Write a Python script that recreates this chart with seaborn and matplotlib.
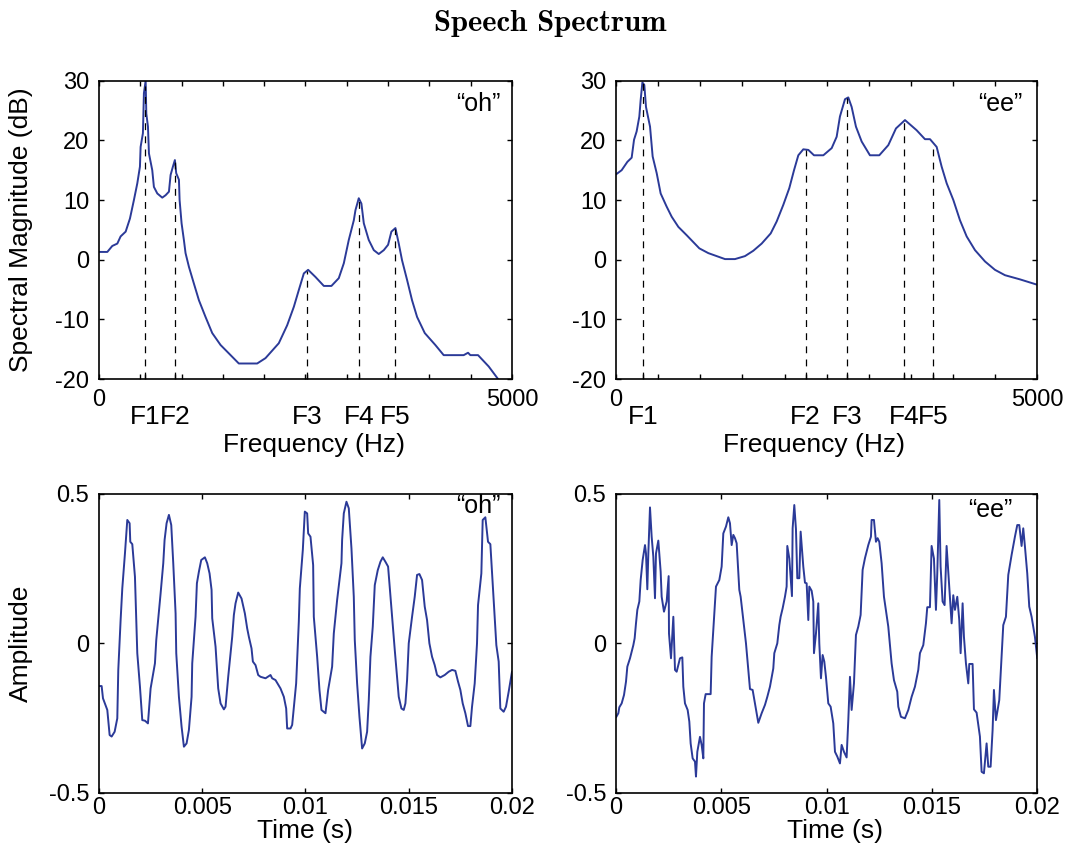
import numpy as np
import matplotlib
matplotlib.use("Agg")
import matplotlib.pyplot as plt
import seaborn as sns

# spectrum of "oh" (Hz, dB)
oh_freq = [0, 101, 161, 222, 262, 323, 375, 423, 464, 496, 504, 532, 544, 565, 573, 593, 605, 645, 665, 706,
           766, 806, 847, 867, 895, 919, 935, 968, 976, 1000, 1028, 1048, 1089, 1149, 1210, 1290, 1371, 1472, 1572, 1693,
           1915, 2016, 2177, 2278, 2359, 2419, 2480, 2532, 2621, 2722, 2814, 2903, 2964, 3024, 3085, 3105, 3145, 3177, 3206, 3266,
           3327, 3387, 3448, 3500, 3540, 3589, 3629, 3669, 3730, 3790, 3851, 3944, 4072, 4173, 4314, 4415, 4468, 4496, 4589, 4718,
           4831, 5000]
oh_db = [1.3, 1.3, 2.3, 2.7, 3.9, 4.7, 6.9, 10.0, 12.8, 15.6, 18.9, 21.2, 27.9, 30.0, 24.5, 22.3, 17.8, 15.0, 12.2, 11.1,
         10.4, 10.8, 11.4, 14.2, 15.6, 16.7, 14.5, 13.4, 10.0, 6.1, 3.3, 1.1, -1.2, -4.0, -6.8, -9.6, -12.3, -14.3, -15.7, -17.4,
         -17.4, -16.5, -14.0, -11.0, -7.9, -5.1, -2.3, -1.7, -2.9, -4.4, -4.4, -3.1, -0.6, 3.3, 6.6, 8.3, 10.3, 9.4, 6.1, 3.3,
         1.6, 0.95, 1.6, 2.5, 4.7, 5.3, 2.7, -0.1, -3.4, -6.8, -9.6, -12.3, -14.3, -16.0, -16.0, -16.0, -15.6, -16.0, -16.0, -17.9,
         -20.0, -23.0]
oh_formants = [556, 919, 2520, 3150, 3580]

# spectrum of "ee"
ee_freq = [0, 67, 135, 186, 214, 245, 277, 293, 313, 336, 356, 404, 435, 483, 530, 601, 661, 740, 839, 989,
           1096, 1294, 1412, 1531, 1630, 1729, 1836, 1907, 1986, 2057, 2113, 2164, 2223, 2283, 2350, 2461, 2560, 2619, 2658, 2718,
           2757, 2797, 2848, 2916, 3014, 3125, 3232, 3323, 3430, 3568, 3667, 3727, 3806, 3865, 3925, 4004, 4083, 4162, 4261, 4380,
           4498, 4617, 4795, 5000]
ee_db = [14.3, 15.0, 16.4, 17.1, 20.1, 21.5, 24.0, 26.8, 29.7, 29.3, 25.6, 22.3, 17.3, 14.5, 11.1, 8.9, 7.2, 5.5, 4.1, 1.9,
         1.1, 0.1, 0.1, 0.6, 1.5, 2.7, 4.4, 6.4, 9.2, 12.0, 15.0, 17.5, 18.5, 18.4, 17.5, 17.5, 18.7, 20.6, 24.0, 26.9,
         27.2, 25.6, 22.3, 19.8, 17.5, 17.5, 19.2, 22.0, 23.4, 21.7, 20.2, 20.2, 18.9, 15.6, 12.8, 10.0, 6.6, 3.9, 1.6, -0.3,
         -1.7, -2.6, -3.3, -4.2]
ee_formants = [317, 2250, 2745, 3420, 3765]

formant_names = ['F1', 'F2', 'F3', 'F4', 'F5']

# waveform of "oh" (time in ms, amplitude)
oh_t = [0.032, 0.129, 0.194, 0.403, 0.516, 0.613, 0.758, 0.887, 0.935, 1.048,
        1.129, 1.258, 1.371, 1.484, 1.516, 1.613, 1.742, 1.855, 1.984, 2.097,
        2.226, 2.371, 2.500, 2.710, 2.774, 2.984, 3.113, 3.177, 3.274, 3.387,
        3.500, 3.597, 3.710, 3.742, 3.871, 4.000, 4.113, 4.242, 4.355, 4.484,
        4.516, 4.677, 4.742, 4.839, 4.952, 5.129, 5.242, 5.355, 5.452, 5.484,
        5.645, 5.774, 5.887, 6.048, 6.129, 6.258, 6.387, 6.452, 6.532, 6.613,
        6.742, 6.903, 7.065, 7.177, 7.258, 7.387, 7.452, 7.581, 7.710, 7.823,
        8.065, 8.306, 8.387, 8.548, 8.790, 8.952, 9.065, 9.113, 9.274, 9.355,
        9.548, 9.677, 9.726, 9.871, 9.968, 10.081, 10.129, 10.242, 10.371, 10.403,
        10.565, 10.677, 10.774, 10.968, 11.097, 11.290, 11.371, 11.532, 11.742, 11.774,
        11.855, 11.984, 12.097, 12.226, 12.339, 12.387, 12.500, 12.613, 12.742, 12.871,
        12.984, 13.065, 13.145, 13.258, 13.355, 13.500, 13.629, 13.742, 13.871, 14.000,
        14.065, 14.194, 14.323, 14.435, 14.516, 14.645, 14.758, 14.839, 14.919, 15.000,
        15.161, 15.290, 15.403, 15.516, 15.645, 15.774, 15.887, 16.000, 16.129, 16.258,
        16.371, 16.532, 16.742, 16.935, 17.097, 17.258, 17.387, 17.500, 17.613, 17.742,
        17.871, 17.984, 18.065, 18.194, 18.306, 18.355, 18.516, 18.581, 18.710, 18.839,
        18.952, 19.113, 19.242, 19.355, 19.435, 19.597, 19.710, 19.839, 20.000]
oh_amp = [-0.143, -0.143, -0.184, -0.223, -0.307, -0.312, -0.296, -0.251, -0.089, 0.078,
          0.184, 0.301, 0.413, 0.402, 0.340, 0.332, 0.223, -0.033, -0.145, -0.257,
          -0.259, -0.268, -0.151, -0.067, 0.011, 0.167, 0.268, 0.346, 0.402, 0.430,
          0.396, 0.268, 0.100, -0.033, -0.179, -0.279, -0.346, -0.335, -0.290, -0.179,
          -0.067, 0.089, 0.201, 0.240, 0.279, 0.288, 0.268, 0.234, 0.179, 0.084,
          -0.011, -0.151, -0.201, -0.221, -0.212, -0.112, -0.022, 0.022, 0.095, 0.134,
          0.170, 0.150, 0.100, 0.050, 0.022, -0.017, -0.061, -0.073, -0.106, -0.112,
          -0.117, -0.106, -0.117, -0.123, -0.151, -0.179, -0.218, -0.285, -0.285, -0.273,
          -0.134, 0.073, 0.184, 0.313, 0.441, 0.435, 0.368, 0.357, 0.262, 0.089,
          -0.045, -0.156, -0.223, -0.234, -0.156, -0.078, 0.033, 0.145, 0.268, 0.346,
          0.435, 0.474, 0.452, 0.318, 0.156, 0.011, -0.134, -0.246, -0.352, -0.335,
          -0.296, -0.190, -0.045, 0.056, 0.195, 0.245, 0.273, 0.288, 0.273, 0.257,
          0.201, 0.089, -0.022, -0.112, -0.179, -0.218, -0.223, -0.201, -0.123, 0.000,
          0.089, 0.156, 0.229, 0.232, 0.212, 0.123, 0.078, 0.000, -0.045, -0.073,
          -0.106, -0.114, -0.106, -0.095, -0.089, -0.092, -0.128, -0.156, -0.201, -0.234,
          -0.277, -0.277, -0.212, -0.134, 0.000, 0.128, 0.234, 0.413, 0.422, 0.340,
          0.332, 0.145, -0.006, -0.061, -0.218, -0.229, -0.212, -0.162, -0.095]

# waveform of "ee"
ee_t = [0.000, 0.111, 0.158, 0.269, 0.380, 0.475, 0.538, 0.665, 0.823, 0.886,
        0.949, 1.013, 1.108, 1.171, 1.266, 1.377, 1.424, 1.487, 1.535, 1.614,
        1.693, 1.772, 1.851, 1.899, 2.009, 2.120, 2.168, 2.278, 2.405, 2.500,
        2.516, 2.611, 2.722, 2.801, 2.880, 3.038, 3.149, 3.196, 3.275, 3.402,
        3.481, 3.544, 3.639, 3.750, 3.797, 3.861, 3.987, 4.066, 4.146, 4.177,
        4.256, 4.494, 4.541, 4.620, 4.747, 4.905, 5.016, 5.095, 5.222, 5.332,
        5.411, 5.491, 5.570, 5.649, 5.728, 5.854, 5.918, 6.044, 6.171, 6.282,
        6.361, 6.487, 6.598, 6.756, 6.915, 7.073, 7.184, 7.310, 7.468, 7.516,
        7.658, 7.753, 7.816, 7.911, 8.022, 8.101, 8.133, 8.228, 8.354, 8.386,
        8.465, 8.544, 8.608, 8.703, 8.766, 8.892, 8.972, 9.051, 9.130, 9.177,
        9.288, 9.367, 9.399, 9.494, 9.604, 9.652, 9.731, 9.810, 9.889, 9.968,
        10.079, 10.190, 10.316, 10.396, 10.506, 10.633, 10.712, 10.823, 10.949, 11.029,
        11.108, 11.187, 11.298, 11.392, 11.503, 11.614, 11.709, 11.820, 11.978, 12.104,
        12.136, 12.247, 12.342, 12.421, 12.500, 12.611, 12.722, 12.927, 13.085, 13.196,
        13.354, 13.402, 13.528, 13.718, 13.877, 14.035, 14.193, 14.351, 14.430, 14.589,
        14.715, 14.778, 14.905, 14.984, 15.095, 15.190, 15.253, 15.348, 15.411, 15.506,
        15.601, 15.696, 15.823, 15.934, 16.013, 16.092, 16.203, 16.297, 16.361, 16.456,
        16.519, 16.614, 16.725, 16.772, 16.930, 16.994, 17.120, 17.278, 17.358, 17.468,
        17.595, 17.674, 17.785, 17.880, 17.943, 18.038, 18.196, 18.307, 18.386, 18.513,
        18.624, 18.782, 18.940, 19.051, 19.146, 19.256, 19.335, 19.415, 19.525, 19.620,
        19.731, 19.889, 20.000]
ee_amp = [-0.248, -0.234, -0.214, -0.201, -0.173, -0.128, -0.078, -0.050, -0.006, 0.017,
          0.067, 0.112, 0.140, 0.212, 0.279, 0.329, 0.301, 0.181, 0.301, 0.455,
          0.357, 0.290, 0.151, 0.301, 0.344, 0.240, 0.156, 0.106, 0.140, 0.225,
          0.033, -0.050, 0.089, -0.089, -0.095, -0.050, -0.047, -0.145, -0.201, -0.223,
          -0.262, -0.335, -0.385, -0.396, -0.446, -0.363, -0.313, -0.340, -0.385, -0.201,
          -0.170, -0.170, -0.045, 0.045, 0.190, 0.212, 0.257, 0.368, 0.391, 0.422,
          0.402, 0.329, 0.363, 0.352, 0.335, 0.179, 0.156, 0.078, 0.000, -0.089,
          -0.153, -0.156, -0.201, -0.266, -0.234, -0.206, -0.179, -0.145, -0.084, -0.033,
          0.000, 0.061, 0.089, 0.117, 0.156, 0.190, 0.326, 0.284, 0.158, 0.385,
          0.463, 0.382, 0.218, 0.218, 0.374, 0.257, 0.203, 0.201, 0.078, 0.190,
          0.176, 0.140, -0.033, 0.033, 0.134, 0.000, -0.117, -0.039, -0.061, -0.112,
          -0.201, -0.212, -0.268, -0.363, -0.379, -0.402, -0.340, -0.363, -0.382, -0.257,
          -0.112, -0.223, -0.134, 0.028, 0.056, 0.095, 0.246, 0.285, 0.329, 0.357,
          0.413, 0.413, 0.340, 0.352, 0.340, 0.268, 0.156, 0.056, -0.067, -0.123,
          -0.162, -0.212, -0.246, -0.251, -0.223, -0.179, -0.145, -0.089, -0.033, -0.006,
          0.067, 0.121, 0.121, 0.326, 0.284, 0.112, 0.234, 0.480, 0.257, 0.140,
          0.128, 0.326, 0.190, 0.067, 0.161, 0.112, 0.156, 0.078, -0.033, 0.134,
          0.022, -0.067, -0.134, -0.069, -0.069, -0.221, -0.232, -0.312, -0.430, -0.435,
          -0.335, -0.413, -0.413, -0.290, -0.156, -0.257, -0.190, -0.045, 0.061, 0.089,
          0.229, 0.296, 0.357, 0.396, 0.396, 0.326, 0.385, 0.324, 0.234, 0.123,
          0.089, 0.022, -0.050]

# style
sns.set_style("ticks")
plt.rcParams['font.family'] = ['Liberation Sans', 'DejaVu Sans']
plt.rcParams['axes.unicode_minus'] = False
plt.rcParams['axes.edgecolor'] = 'black'
plt.rcParams['axes.linewidth'] = 1.2
plt.rcParams['text.color'] = 'black'
plt.rcParams['axes.labelcolor'] = 'black'
plt.rcParams['xtick.color'] = 'black'
plt.rcParams['ytick.color'] = 'black'
plt.rcParams['xtick.direction'] = 'in'
plt.rcParams['ytick.direction'] = 'in'
plt.rcParams['xtick.top'] = True
plt.rcParams['ytick.right'] = True
plt.rcParams['xtick.major.size'] = 3.5
plt.rcParams['ytick.major.size'] = 3.5

line_col = '#2b3a98'
tick_fs = 17
lab_fs = 19
tag_fs = 18

fig = plt.figure(figsize=(10.7, 8.46), dpi=100)
ax_oh_s = fig.add_axes([0.0925, 0.552, 0.386, 0.3526])
ax_ee_s = fig.add_axes([0.5757, 0.552, 0.3937, 0.3526])
ax_oh_w = fig.add_axes([0.0925, 0.063, 0.386, 0.3531])
ax_ee_w = fig.add_axes([0.5757, 0.063, 0.3937, 0.3531])


def spectrum(ax, freq, db, formants, tag, tag_x, xlab_x):
    sns.lineplot(x=freq, y=db, ax=ax, color=line_col, lw=1.4, estimator=None)
    tops = np.interp(formants, freq, db)
    ax.vlines(formants, -20, tops, colors='black', linestyles=(0, (5.5, 5)), lw=0.9)
    ax.set_xlim(0, 5000)
    ax.set_ylim(-20, 30)
    ax.set_xticks(np.arange(0, 5001, 500))
    ax.set_xticklabels(['0'] + [''] * 9 + ['5000'])
    ax.set_xticks(formants, minor=True)
    ax.set_xticklabels(formant_names, minor=True)
    ax.set_yticks(range(-20, 31, 10))
    ax.tick_params(axis='both', which='major', labelsize=tick_fs, pad=7, width=1)
    ax.tick_params(axis='x', which='minor', top=False, bottom=True, length=3.5,
                   width=1, labelsize=lab_fs, pad=19)
    ax.set_xlabel('Frequency (Hz)', fontsize=lab_fs)
    ax.xaxis.set_label_coords(xlab_x, -0.182)
    ax.set_ylabel('')
    ax.text(tag_x, 0.922, tag, transform=ax.transAxes, ha='center', va='center', fontsize=tag_fs)


def waveform(ax, t, amp, tag, tag_x, tag_y, xlab_x):
    sns.lineplot(x=np.array(t) / 1000.0, y=amp, ax=ax, color=line_col, lw=1.4, estimator=None)
    ax.set_xlim(0, 0.02)
    ax.set_ylim(-0.5, 0.5)
    ax.set_xticks([0, 0.005, 0.01, 0.015, 0.02])
    ax.set_xticklabels(['0', '0.005', '0.01', '0.015', '0.02'])
    ax.set_yticks([-0.5, 0, 0.5])
    ax.set_yticklabels(['-0.5', '0', '0.5'])
    ax.tick_params(axis='both', which='major', labelsize=tick_fs, pad=7, width=1)
    ax.tick_params(axis='x', which='major', pad=3)
    ax.set_xlabel('Time (s)', fontsize=lab_fs)
    ax.xaxis.set_label_coords(xlab_x, -0.088)
    ax.set_ylabel('')
    ax.text(tag_x, tag_y, tag, transform=ax.transAxes, ha='center', va='center', fontsize=tag_fs)


spectrum(ax_oh_s, oh_freq, oh_db, oh_formants, '\u201coh\u201d', 0.918, 0.52)
spectrum(ax_ee_s, ee_freq, ee_db, ee_formants, '\u201cee\u201d', 0.911, 0.47)

waveform(ax_oh_w, oh_t, oh_amp, '\u201coh\u201d', 0.918, 0.96, 0.5)
waveform(ax_ee_w, ee_t, ee_amp, '\u201cee\u201d', 0.888, 0.946, 0.52)

ax_oh_s.set_ylabel('Spectral Magnitude (dB)', fontsize=lab_fs)
ax_oh_s.yaxis.set_label_coords(-0.16, 0.5)
ax_oh_w.set_ylabel('Amplitude', fontsize=lab_fs)
ax_oh_w.yaxis.set_label_coords(-0.16, 0.5)

fig.text(0.514, 0.972, 'Speech Spectrum', ha='center', va='center',
         fontsize=22, family='cmb10')

fig.savefig('out.png', dpi=100)
